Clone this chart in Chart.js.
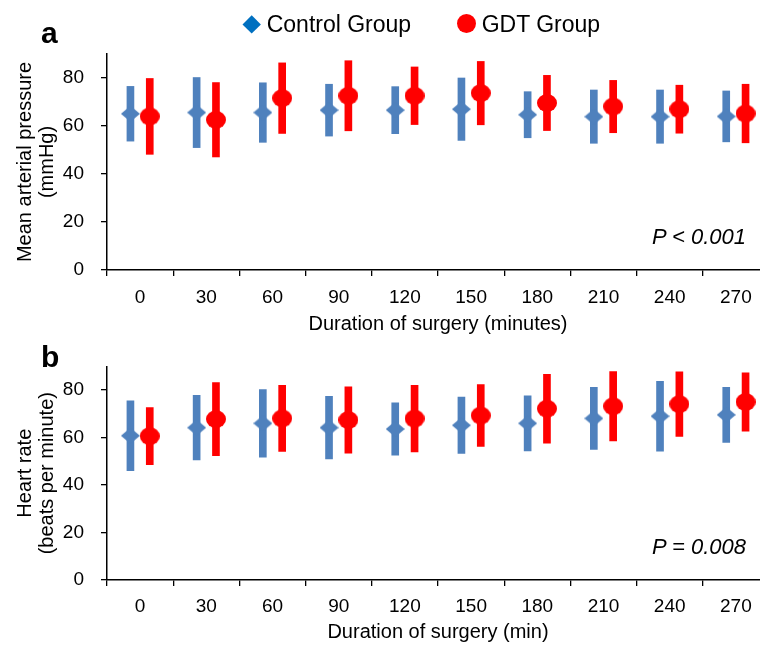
<!DOCTYPE html>
<html><head><meta charset="utf-8">
<script src="https://cdn.jsdelivr.net/npm/chart.js@4/dist/chart.umd.min.js"></script>
<style>
html,body{margin:0;padding:0;overflow:hidden;background:#fff;}
#root{position:relative;width:760px;height:645px;overflow:hidden;font-family:'Liberation Sans',Arial,Helvetica,sans-serif;color:#000;background:#fff;}
.panel{position:absolute;left:0;}
.txt{position:absolute;white-space:nowrap;font-family:'Liberation Sans',Arial,Helvetica,sans-serif;color:#000;}
</style></head><body>
<div id="root">
  <div class="panel" style="top:0"><canvas id="cA" width="780" height="338"></canvas></div>
  <div class="panel" style="top:338px"><canvas id="cB" width="780" height="307"></canvas></div>
  <div class="txt" style="left:41px;top:17.6px;font-weight:bold;font-size:30px;line-height:30px;">a</div>
  <div class="txt" style="left:41px;top:341.6px;font-weight:bold;font-size:30px;line-height:30px;">b</div>
  <div id="legend"></div>
  <div class="txt" style="left:546px;width:200px;text-align:right;top:226.4px;font-style:italic;font-size:22px;line-height:22px;">P &lt; 0.001</div>
  <div class="txt" style="left:546px;width:200px;text-align:right;top:536.4px;font-style:italic;font-size:22px;line-height:22px;">P = 0.008</div>
</div>
<script>
// ---- data ----
const categories = ['0', '30', '60', '90', '120', '150', '180', '210', '240', '270'];
const seriesNames = ['Control Group', 'GDT Group'];
const yTickValues = [0, 20, 40, 60, 80];

// Panel a: mean arterial pressure (mmHg), mean and SD
const mapControlMean = [65.1, 65.6, 65.6, 66.6, 66.6, 67.0, 64.7, 63.9, 63.9, 64.0];
const mapControlSD   = [11.4, 14.6, 12.4, 10.8,  9.8, 13.0,  9.6, 11.1, 11.1, 10.6];
const mapGdtMean     = [64.0, 62.6, 71.6, 72.6, 72.6, 73.7, 69.6, 68.1, 67.0, 65.2];
const mapGdtSD       = [15.8, 15.5, 14.7, 14.6, 12.0, 13.2, 11.5, 10.9, 10.0, 12.2];

// Panel b: heart rate (beats per minute), mean and SD
const hrControlMean = [60.8, 64.2, 66.0, 64.2, 63.6, 65.2, 66.0, 68.1, 69.0, 69.6];
const hrControlSD   = [14.7, 13.6, 14.2, 13.2, 11.0, 11.9, 11.6, 13.1, 14.7, 11.6];
const hrGdtMean     = [60.6, 67.8, 68.1, 67.4, 68.0, 69.3, 72.2, 73.2, 74.1, 75.0];
const hrGdtSD       = [12.0, 15.4, 13.9, 14.0, 14.0, 13.0, 14.5, 14.6, 13.6, 12.3];

// ---- styling ----
const BLUE = '#4F81BD';
const RED = '#FF0000';
const LEGEND_BLUE = '#0070C0';
const FONT = "'Liberation Sans', Arial, Helvetica, sans-serif";
const SHIFT = 0.146; // horizontal shift of each group within a category

Chart.defaults.font.family = FONT;
Chart.defaults.color = '#000';

function diamondImg(w, h, color) {
  const c = document.createElement('canvas');
  c.width = w; c.height = h;
  const g = c.getContext('2d');
  g.fillStyle = color;
  g.beginPath();
  g.moveTo(w / 2, 0); g.lineTo(w, h / 2); g.lineTo(w / 2, h); g.lineTo(0, h / 2);
  g.closePath(); g.fill();
  return c;
}
function ellipseImg(w, h, color) {
  const c = document.createElement('canvas');
  c.width = w; c.height = h;
  const g = c.getContext('2d');
  g.fillStyle = color;
  g.beginPath();
  g.ellipse(w / 2, h / 2, w / 2, h / 2, 0, 0, Math.PI * 2);
  g.fill();
  return c;
}
const diamond = diamondImg(19, 16, BLUE);
const dot = ellipseImg(20, 18, RED);

function errData(mean, sd, shift) {
  return mean.map((m, i) => ({ x: i + shift, y: [m - sd[i], m + sd[i]] }));
}
function ptData(mean, shift) {
  return mean.map((m, i) => ({ x: i + shift, y: m }));
}

function makeChart(id, ctrlMean, ctrlSD, gdtMean, gdtSD, yTitle, xTitle, geo) {
  return new Chart(document.getElementById(id), {
    type: 'bar',
    data: {
      labels: categories,
      datasets: [
        { type: 'scatter', label: seriesNames[1], data: ptData(gdtMean, SHIFT), xAxisID: 'xl', yAxisID: 'y',
          pointStyle: dot, pointRadius: 10, backgroundColor: RED, borderWidth: 0, order: 0 },
        { type: 'bar', label: seriesNames[1] + ' SD', data: errData(gdtMean, gdtSD, SHIFT), xAxisID: 'xl', yAxisID: 'y',
          backgroundColor: RED, borderWidth: 0, barThickness: 7, grouped: false, order: 1 },
        { type: 'scatter', label: seriesNames[0], data: ptData(ctrlMean, -SHIFT), xAxisID: 'xl', yAxisID: 'y',
          pointStyle: diamond, pointRadius: 10, backgroundColor: BLUE, borderWidth: 0, order: 2 },
        { type: 'bar', label: seriesNames[0] + ' SD', data: errData(ctrlMean, ctrlSD, -SHIFT), xAxisID: 'xl', yAxisID: 'y',
          backgroundColor: BLUE, borderWidth: 0, barThickness: 7, grouped: false, order: 3 }
      ]
    },
    options: {
      responsive: false,
      devicePixelRatio: 1,
      animation: false,
      events: [],
      layout: { padding: { top: geo.padTop, left: 0, right: 11, bottom: 0 } },
      plugins: { legend: { display: false }, tooltip: { enabled: false }, title: { display: false } },
      scales: {
        x: {
          type: 'category',
          labels: categories,
          offset: true,
          position: 'bottom',
          grid: { offset: true, drawOnChartArea: false, drawTicks: true, tickLength: 6, color: '#000', lineWidth: 1.3 },
          border: { display: true, color: '#000', width: 1.5 },
          ticks: { font: { size: 19 }, padding: geo.xTickPad, color: '#000', maxRotation: 0, autoSkip: false },
          title: { display: true, text: xTitle, font: { size: 20, lineHeight: 1.2 }, padding: { top: 0, bottom: geo.xTitlePad }, color: '#000' },
          afterFit: s => { s.height = geo.xHeight; }
        },
        xl: {
          type: 'linear',
          display: false,
          offset: false,
          min: -0.5,
          max: 9.5
        },
        y: {
          type: 'linear',
          position: 'left',
          min: 0,
          max: 90,
          ticks: { stepSize: 20, font: { size: 19 }, padding: 17, color: '#000' },
          afterBuildTicks: s => { s.ticks = yTickValues.map(v => ({ value: v })); },
          grid: { drawOnChartArea: false, drawTicks: true, tickLength: 6, color: '#000', lineWidth: 1.3 },
          border: { display: true, color: '#000', width: 1.5 },
          title: { display: true, text: yTitle, font: { size: 20, lineHeight: 1.1 }, padding: { top: 14, bottom: 0 }, color: '#000' },
          afterFit: s => { s.width = 107; }
        }
      }
    }
  });
}

makeChart('cA', mapControlMean, mapControlSD, mapGdtMean, mapGdtSD,
  ['Mean arterial pressure', '(mmHg)'], 'Duration of surgery (minutes)',
  { padTop: 54, xHeight: 68, xTickPad: 10, xTitlePad: 2 });
makeChart('cB', hrControlMean, hrControlSD, hrGdtMean, hrGdtSD,
  ['Heart rate', '(beats per minute)'], 'Duration of surgery (min)',
  { padTop: 27, xHeight: 65, xTickPad: 9, xTitlePad: 1 });

// ---- legend (HTML, built from the series names and colours) ----
(function buildLegend() {
  const root = document.getElementById('root');
  const items = [
    { name: seriesNames[0], color: LEGEND_BLUE, shape: 'diamond', cx: 252, cy: 25, textX: 266.7 },
    { name: seriesNames[1], color: RED, shape: 'circle', cx: 466.7, cy: 23.5, textX: 481.7 }
  ];
  items.forEach(it => {
    const m = document.createElement('div');
    m.style.position = 'absolute';
    m.style.background = it.color;
    if (it.shape === 'diamond') {
      const s = 13.4;
      m.style.width = s + 'px'; m.style.height = s + 'px';
      m.style.left = (it.cx - s / 2) + 'px'; m.style.top = (it.cy - s / 2) + 'px';
      m.style.transform = 'rotate(45deg)';
    } else {
      const d = 19.5;
      m.style.width = d + 'px'; m.style.height = d + 'px';
      m.style.left = (it.cx - d / 2) + 'px'; m.style.top = (it.cy - d / 2) + 'px';
      m.style.borderRadius = '50%';
    }
    root.appendChild(m);
    const t = document.createElement('div');
    t.className = 'txt';
    t.textContent = it.name;
    t.style.left = it.textX + 'px';
    t.style.top = '12.8px';
    t.style.fontSize = '23px';
    t.style.lineHeight = '23px';
    root.appendChild(t);
  });
})();
</script>
</body></html>
